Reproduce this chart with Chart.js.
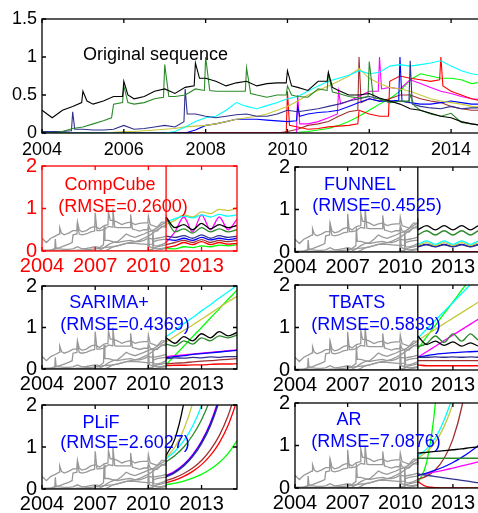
<!DOCTYPE html>
<html>
<head>
<meta charset="utf-8">
<script src="https://cdn.jsdelivr.net/npm/chart.js@4.4.1/dist/chart.umd.min.js"></script>
<style>
  body { margin: 0; width: 478px; height: 513px; overflow: hidden; background: #fff; position: relative; }
  canvas { position: absolute; left: 0; top: 0; }
</style>
</head>
<body>
<canvas id="top" width="500" height="513"></canvas>
<canvas id="p0" width="500" height="513"></canvas>
<canvas id="p1" width="500" height="513"></canvas>
<canvas id="p2" width="500" height="513"></canvas>
<canvas id="p3" width="500" height="513"></canvas>
<canvas id="p4" width="500" height="513"></canvas>
<canvas id="p5" width="500" height="513"></canvas>
<script>
// quarterly sample times of the original sequence
const years = [2004, 2004.25, 2004.5, 2004.75, 2005, 2005.25, 2005.5, 2005.75,
  2006, 2006.25, 2006.5, 2006.75, 2007, 2007.25, 2007.5, 2007.75,
  2008, 2008.25, 2008.5, 2008.75, 2009, 2009.25, 2009.5, 2009.75,
  2010, 2010.25, 2010.5, 2010.75, 2011, 2011.25, 2011.5, 2011.75,
  2012, 2012.25, 2012.5, 2012.75, 2013, 2013.25, 2013.5, 2013.75,
  2014, 2014.25, 2014.5, 2014.75];
// forecast horizon (half-year steps)
const fcYears = [2011, 2011.5, 2012, 2012.5, 2013, 2013.5, 2014, 2014.5, 2015];

// original sequences (quarterly)
const sBlack = [0.3, 0.2, 0.3, 0.35, 0.55, 0.38, 0.42, 0.48, 0.68, 0.45, 0.48, 0.55, 0.58, 0.52, 0.6, 0.92,
  0.72, 0.68, 0.62, 0.66, 0.68, 0.62, 0.65, 0.66, 0.82, 0.6, 0.56, 0.68, 0.8, 0.56, 0.5, 0.5,
  0.52, 0.46, 0.42, 0.38, 0.32, 0.3, 0.26, 0.22, 0.2, 0.15, 0.12, 0.1];
const sForest = [0, 0, 0.02, 0.06, 0.08, 0.12, 0.16, 0.38, 0.62, 0.38, 0.4, 0.45, 0.9, 0.48, 0.5, 0.58,
  1.0, 0.55, 0.55, 0.55, 0.86, 0.5, 0.47, 0.5, 0.62, 0.48, 0.47, 0.58, 0.78, 0.52, 0.48, 0.46,
  0.94, 0.45, 0.4, 0.42, 0.5, 0.3, 0.25, 0.22, 0.26, 0.14, 0.12, 0.1];
const sNavy = [0.02, 0.02, 0.02, 0.28, 0.05, 0.04, 0.04, 0.05, 0.1, 0.05, 0.06, 0.08, 0.1, 0.08, 0.58, 0.25,
  0.22, 0.2, 0.22, 0.24, 0.25, 0.22, 0.22, 0.25, 0.3, 0.28, 0.3, 0.32, 0.35, 0.38, 0.42, 0.45,
  0.48, 0.45, 0.4, 0.42, 0.95, 0.35, 0.33, 0.32, 0.35, 0.32, 0.33, 0.33];
const sCyan = [0, 0, 0, 0, 0, 0, 0, 0, 0, 0, 0, 0, 0, 0.02, 0.08, 0.15,
  0.2, 0.22, 0.3, 0.4, 0.35, 0.32, 0.36, 0.4, 0.45, 0.48, 0.55, 0.62, 0.68, 0.72, 0.76, 0.82,
  0.78, 0.8, 0.88, 0.9, 0.88, 0.9, 0.92, 0.95, 0.88, 0.82, 0.78, 0.76];
const sOlive = [0, 0, 0, 0, 0, 0, 0, 0.01, 0.02, 0.02, 0.03, 0.04, 0.05, 0.06, 0.08, 0.09,
  0.1, 0.12, 0.15, 0.18, 0.2, 0.22, 0.25, 0.3, 0.35, 0.42, 0.5, 0.56, 0.62, 0.68, 0.75, 0.85,
  0.72, 0.65, 0.6, 0.58, 0.55, 0.5, 0.45, 0.42, 0.4, 0.38, 0.35, 0.34];
const sBlue = [0, 0, 0, 0, 0, 0, 0, 0, 0, 0, 0, 0, 0, 0, 0, 0.04,
  0.1, 0.12, 0.15, 0.18, 0.18, 0.18, 0.17, 0.16, 0.15, 0.35, 0.25, 0.27, 0.28, 0.3, 0.35, 0.4,
  0.45, 0.42, 0.42, 1.0, 0.4, 0.38, 0.38, 0.4, 0.42, 0.4, 0.38, 0.38];
const sRed = [0, 0, 0, 0, 0, 0, 0, 0, 0, 0, 0, 0, 0, 0, 0, 0,
  0, 0, 0, 0, 0, 0, 0, 0, 0.55, 0.08, 0.05, 0.06, 0.08, 0.09, 0.1, 0.3,
  0.25, 0.22, 0.68, 0.75, 0.72, 0.7, 0.68, 1.0, 0.55, 0.5, 0.45, 0.42];
const sMagenta = [0, 0, 0, 0, 0, 0, 0, 0, 0, 0, 0, 0, 0, 0, 0, 0,
  0, 0, 0, 0, 0, 0, 0, 0, 0, 0.5, 0.12, 0.15, 0.2, 0.55, 0.42, 0.48,
  0.55, 1.0, 0.6, 0.58, 0.7, 0.65, 0.6, 0.55, 0.52, 0.48, 0.45, 0.44];
const sBrown = [0, 0, 0, 0, 0, 0, 0, 0, 0, 0, 0, 0, 0, 0, 0, 0,
  0, 0, 0, 0, 0, 0, 0, 0, 0.02, 0.05, 0.1, 0.12, 0.15, 0.22, 0.28, 1.0,
  0.45, 0.42, 0.45, 0.5, 0.5, 0.45, 0.42, 0.4, 0.35, 0.32, 0.3, 0.3];
const sLime = [0, 0, 0, 0, 0, 0, 0, 0, 0, 0, 0, 0, 0, 0, 0, 0,
  0, 0, 0, 0, 0, 0, 0, 0, 0, 0.01, 0.02, 0.04, 0.06, 0.1, 0.15, 0.22,
  0.3, 0.38, 0.45, 0.55, 0.7, 0.78, 0.75, 0.72, 0.72, 0.7, 0.65, 0.67];

// extra [year, value] readings at the foot of each sharp spike
const kBlack = [[2004.97, 0.4], [2005.1, 0.42], [2005.97, 0.48], [2006.1, 0.5], [2007.72, 0.62], [2007.85, 0.72],
  [2009.97, 0.66], [2010.1, 0.62], [2010.97, 0.68], [2011.1, 0.6]];
const kForest = [[2005.7, 0.2], [2005.97, 0.4], [2006.1, 0.4], [2006.97, 0.47], [2007.1, 0.48], [2007.97, 0.56],
  [2008.1, 0.56], [2008.97, 0.55], [2009.1, 0.52], [2009.97, 0.5], [2010.1, 0.5], [2010.97, 0.56],
  [2011.1, 0.54], [2011.97, 0.48], [2012.1, 0.46], [2012.97, 0.42], [2013.1, 0.36]];
const kNavy = [[2004.72, 0.03], [2004.8, 0.05], [2007.47, 0.15], [2007.55, 0.25], [2012.97, 0.4], [2013.05, 0.38]];
const kCyan = [];
const kOlive = [];
const kBlue = [[2010.22, 0.16], [2010.3, 0.22], [2012.72, 0.43], [2012.8, 0.42]];
const kRed = [[2009.97, 0], [2010.05, 0.1], [2011.72, 0.12], [2012.47, 0.22], [2013.72, 0.7], [2013.8, 0.62]];
const kMagenta = [[2010.22, 0], [2010.3, 0.12], [2011.22, 0.25], [2011.3, 0.38], [2012.22, 0.55], [2012.3, 0.58]];
const kBrown = [[2011.72, 0.3], [2011.8, 0.4]];
const kLime = [];

const original = [sBlack, sForest, sNavy, sCyan, sOlive, sBlue, sRed, sMagenta, sBrown, sLime];
const spikes = [kBlack, kForest, kNavy, kCyan, kOlive, kBlue, kRed, kMagenta, kBrown, kLime];
const colors = ['#000000', '#2a8a2a', '#30308f', '#00ffff', '#c8c83c', '#0000ff', '#ff0000', '#ff00ff', '#a03030', '#00ff00'];

// forecasts, one row per series in the same order as `original`
const fcCompCube = [
  [0.8, 0.55, 0.62, 0.5, 0.65, 0.52, 0.62, 0.55, 0.6],
  [0.78, 0.45, 0.52, 0.42, 0.55, 0.45, 0.52, 0.45, 0.5],
  [0.35, 0.32, 0.36, 0.3, 0.38, 0.3, 0.36, 0.32, 0.35],
  [0.68, 0.76, 0.82, 0.78, 0.85, 0.8, 0.86, 0.82, 0.85],
  [0.62, 0.72, 0.85, 0.8, 0.92, 0.88, 0.98, 0.95, 1.02],
  [0.28, 0.25, 0.3, 0.25, 0.32, 0.26, 0.3, 0.27, 0.3],
  [0.08, 0.12, 0.2, 0.15, 0.22, 0.15, 0.2, 0.16, 0.18],
  [0.2, 0.45, 0.8, 0.45, 0.85, 0.5, 0.8, 0.5, 0.75],
  [0.15, 0.2, 0.25, 0.2, 0.27, 0.2, 0.25, 0.22, 0.25],
  [0.06, 0.05, 0.1, 0.08, 0.12, 0.1, 0.14, 0.12, 0.15]];
const fcFunnel = [
  [0.52, 0.62, 0.52, 0.62, 0.52, 0.62, 0.52, 0.62, 0.52],
  [0.4, 0.5, 0.4, 0.5, 0.4, 0.5, 0.4, 0.5, 0.4],
  [0.12, 0.17, 0.12, 0.17, 0.12, 0.17, 0.12, 0.17, 0.12],
  [0.18, 0.26, 0.18, 0.26, 0.18, 0.26, 0.18, 0.26, 0.18],
  [0.15, 0.22, 0.15, 0.22, 0.15, 0.22, 0.15, 0.22, 0.15],
  [0.13, 0.18, 0.13, 0.18, 0.13, 0.18, 0.13, 0.18, 0.13],
  [0, 0, 0, 0, 0, 0, 0, 0, 0],
  [0, 0, 0, 0, 0, 0, 0, 0, 0],
  [0, 0, 0, 0, 0, 0, 0, 0, 0],
  [0, 0, 0, 0, 0, 0, 0, 0, 0]];
const fcSarima = [
  [0.75, 0.62, 0.78, 0.68, 0.85, 0.75, 0.9, 0.8, 0.88],
  [0.6, 0.55, 0.68, 0.6, 0.75, 0.68, 0.8, 0.75, 0.82],
  [0.25, 0.27, 0.26, 0.28, 0.27, 0.29, 0.28, 0.3, 0.3],
  [0.78, 0.93, 1.09, 1.24, 1.4, 1.55, 1.71, 1.86, 2.02],
  [0.65, 0.79, 0.93, 1.06, 1.2, 1.34, 1.48, 1.62, 1.75],
  [0.27, 0.3, 0.32, 0.35, 0.37, 0.39, 0.41, 0.43, 0.45],
  [0.08, 0.09, 0.09, 0.1, 0.1, 0.11, 0.12, 0.12, 0.13],
  [0.3, 0.32, 0.34, 0.36, 0.38, 0.4, 0.42, 0.44, 0.46],
  [0.12, 0.14, 0.15, 0.17, 0.19, 0.2, 0.22, 0.23, 0.25],
  [0.1, 0.33, 0.55, 0.78, 1.0, 1.23, 1.45, 1.68, 1.9]];
const fcTbats = [
  [0.8, 0.6, 0.68, 0.58, 0.66, 0.56, 0.64, 0.56, 0.62],
  [0.55, 0.62, 0.8, 0.65, 0.85, 0.68, 0.85, 0.7, 0.8],
  [0.3, 0.3, 0.31, 0.3, 0.31, 0.3, 0.31, 0.3, 0.3],
  [0.75, 0.96, 1.17, 1.38, 1.59, 1.8, 2.01, 2.22, 2.43],
  [0.7, 0.83, 0.96, 1.09, 1.22, 1.35, 1.48, 1.61, 1.74],
  [0.3, 0.34, 0.37, 0.39, 0.41, 0.42, 0.43, 0.44, 0.45],
  [0.12, 0.1, 0.1, 0.1, 0.1, 0.1, 0.1, 0.1, 0.1],
  [0.3, 0.43, 0.56, 0.69, 0.82, 0.95, 1.08, 1.21, 1.34],
  [0.22, 0.22, 0.22, 0.22, 0.22, 0.22, 0.22, 0.22, 0.22],
  [0.5, 0.78, 1.05, 1.33, 1.6, 1.88, 2.15, 2.43, 2.7]];
const fcPlif = [
  [0.8, 1.2, 2.05, 3.4, 5.6, 9, 15, 25, 40],
  [0.65, 0.8, 1.0, 1.28, 1.65, 2.15, 2.8, 3.7, 5],
  [0.28, 0.39, 0.55, 0.77, 1.08, 1.5, 2.1, 2.92, 4.05],
  [0.72, 0.9, 1.15, 1.5, 1.98, 2.65, 3.6, 5, 7],
  [0.75, 1.0, 1.42, 2.05, 3.0, 4.4, 6.5, 9.5, 14],
  [0.3, 0.41, 0.57, 0.8, 1.12, 1.55, 2.15, 3.0, 4.2],
  [0.15, 0.21, 0.3, 0.42, 0.58, 0.8, 1.1, 1.52, 2.1],
  [0.32, 0.43, 0.59, 0.82, 1.14, 1.58, 2.2, 3.05, 4.25],
  [0.2, 0.27, 0.37, 0.5, 0.68, 0.93, 1.27, 1.75, 2.4],
  [0.1, 0.14, 0.19, 0.26, 0.35, 0.47, 0.63, 0.85, 1.15]];
const fcAr = [
  [0.82, 0.84, 0.86, 0.88, 0.9, 0.92, 0.95, 0.97, 0.99],
  [0.7, 0.7, 0.7, 0.7, 0.7, 0.7, 0.7, 0.7, 0.7],
  [0.33, 0.3, 0.27, 0.24, 0.21, 0.18, 0.15, 0.12, 0.1],
  [0.75, 0.92, 1.18, 1.6, 2.2, 3.2, 5, 8, 12],
  [0.7, 0.85, 1.08, 1.45, 2.0, 2.9, 4.3, 6.5, 10],
  [0.3, 0.35, 0.42, 0.5, 0.6, 0.72, 0.86, 1.02, 1.2],
  [0.15, 0.03, 0.01, 0, 0, 0, 0, 0, 0],
  [0.3, 0.34, 0.38, 0.42, 0.47, 0.52, 0.57, 0.62, 0.67],
  [0.2, 0.28, 0.43, 0.7, 1.15, 1.9, 3.1, 5, 8],
  [0.12, 0.6, 2.0, 5, 10, 18, 28, 40, 50]];

const methods = ['CompCube', 'FUNNEL', 'SARIMA+', 'TBATS', 'PLiF', 'AR'];
const rmse = ['0.2600', '0.4525', '0.4369', '0.5839', '2.6027', '7.0876'];
const forecasts = [fcCompCube, fcFunnel, fcSarima, fcTbats, fcPlif, fcAr];

const topXTicks = [2004, 2006, 2008, 2010, 2012, 2014];
const topYTicks = [0, 0.5, 1, 1.5];
const panelXTicks = [2004, 2007, 2010, 2013];
const panelYTicks = [0, 1, 2];
const splitYear = 2011;

const FONT = '"Liberation Sans", Arial, sans-serif';

function pts(xs, ys) {
  return ys.map((v, i) => ({ x: xs[i], y: v }));
}
// quarterly readings plus spike readings, in time order
function seriesPts(s, extra) {
  return pts(years, s).concat(extra.map(p => ({ x: p[0], y: p[1] }))).sort((a, b) => a.x - b.x);
}

// matlab style box, inward ticks, split line and text labels
const framePlugin = {
  id: 'frame',
  afterDatasetsDraw(chart, args, o) {
    const { ctx, chartArea: a } = chart;
    const x = chart.scales.x, y = chart.scales.y;
    ctx.save();
    ctx.strokeStyle = o.color;
    ctx.lineWidth = 1.3;
    ctx.beginPath();
    if (o.split) {
      const px = x.getPixelForValue(o.split);
      ctx.moveTo(px, a.top);
      ctx.lineTo(px, a.bottom);
    }
    x.ticks.forEach(t => {
      const px = x.getPixelForValue(t.value);
      ctx.moveTo(px, a.bottom); ctx.lineTo(px, a.bottom - 4);
      ctx.moveTo(px, a.top); ctx.lineTo(px, a.top + 4);
    });
    y.ticks.forEach(t => {
      const py = y.getPixelForValue(t.value);
      ctx.moveTo(a.left, py); ctx.lineTo(a.left + 4, py);
      ctx.moveTo(a.right, py); ctx.lineTo(a.right - 4, py);
    });
    ctx.stroke();
    ctx.strokeRect(a.left, a.top, a.right - a.left, a.bottom - a.top);
    ctx.fillStyle = o.textColor;
    ctx.font = '18px ' + FONT;
    ctx.textAlign = o.align;
    ctx.textBaseline = 'alphabetic';
    o.labels.forEach(l => ctx.fillText(l.text, l.x, l.y));
    ctx.restore();
  }
};

function makeChart(id, box, c) {
  const W = 500, H = 513, yW = 40, xH = 30;
  return new Chart(document.getElementById(id), {
    type: 'line',
    data: { datasets: c.datasets },
    options: {
      responsive: false,
      animation: false,
      events: [],
      layout: { padding: { left: box.l - yW, top: box.t, right: W - box.r, bottom: H - box.b - xH } },
      elements: { point: { radius: 0 } },
      plugins: {
        legend: { display: false },
        tooltip: { enabled: false },
        frame: { color: c.color, textColor: c.textColor, split: c.split, labels: c.labels, align: c.align }
      },
      scales: {
        x: {
          type: 'linear', min: c.xMin, max: c.xMax,
          grid: { display: false, drawTicks: false },
          border: { display: false },
          ticks: { color: c.color, font: { size: c.tickSize, family: FONT }, padding: c.xPad, maxRotation: 0, autoSkip: false, callback: v => String(v) },
          afterBuildTicks: s => { s.ticks = c.xTicks.map(v => ({ value: v })); },
          afterFit: s => { s.height = xH; }
        },
        y: {
          type: 'linear', min: 0, max: c.yMax,
          grid: { display: false, drawTicks: false },
          border: { display: false },
          ticks: { color: c.color, font: { size: c.tickSize, family: FONT }, padding: 5, callback: v => String(v) },
          afterBuildTicks: s => { s.ticks = c.yTicks.map(v => ({ value: v })); },
          afterFit: s => { s.width = yW; }
        }
      }
    },
    plugins: [framePlugin]
  });
}

// top chart: the original sequences
makeChart('top', { l: 42, t: 19, r: 492, b: 133 }, {
  datasets: original.map((s, i) => ({
    data: seriesPts(s, spikes[i]), borderColor: colors[i], borderWidth: 1.1, tension: 0
  })),
  color: '#000', textColor: '#000', xMin: 2004, xMax: 2015, yMax: 1.5,
  xTicks: topXTicks, yTicks: topYTicks, tickSize: 18, xPad: 6,
  labels: [{ text: 'Original sequence', x: 83, y: 60 }], align: 'left'
});

// six forecast panels
const boxes = [
  { l: 42, t: 166, r: 237, b: 251 }, { l: 295, t: 167, r: 488, b: 252 },
  { l: 42, t: 286, r: 237, b: 369 }, { l: 295, t: 285, r: 488, b: 370 },
  { l: 42, t: 405, r: 237, b: 489 }, { l: 295, t: 403, r: 488, b: 488 }];
const titlePos = [
  [110, 190, 123, 212], [360, 190, 377, 211],
  [109, 308, 125, 330], [357, 308, 376, 330],
  [101, 428, 125, 448], [349, 425, 376, 447]];

methods.forEach((m, k) => {
  const gray = original.map((s, i) => ({
    data: seriesPts(s, spikes[i]).filter(p => p.x <= splitYear),
    borderColor: '#999999', borderWidth: 1.3, tension: 0, order: 2
  }));
  const fc = forecasts[k].map((row, i) => ({
    data: pts(fcYears, row), borderColor: colors[i], borderWidth: 1.3,
    cubicInterpolationMode: 'monotone', order: 1
  }));
  const isRed = k === 0;
  const tp = titlePos[k];
  makeChart('p' + k, boxes[k], {
    datasets: fc.concat(gray),
    color: isRed ? '#ff0000' : '#000', textColor: isRed ? '#ff0000' : '#0000ff',
    split: splitYear, xMin: 2004, xMax: 2015, yMax: 2,
    xTicks: panelXTicks, yTicks: panelYTicks, tickSize: 20, xPad: 3,
    labels: [{ text: m, x: tp[0], y: tp[1] }, { text: '(RMSE=' + rmse[k] + ')', x: tp[2], y: tp[3] }],
    align: 'center'
  });
});
</script>
</body>
</html>
